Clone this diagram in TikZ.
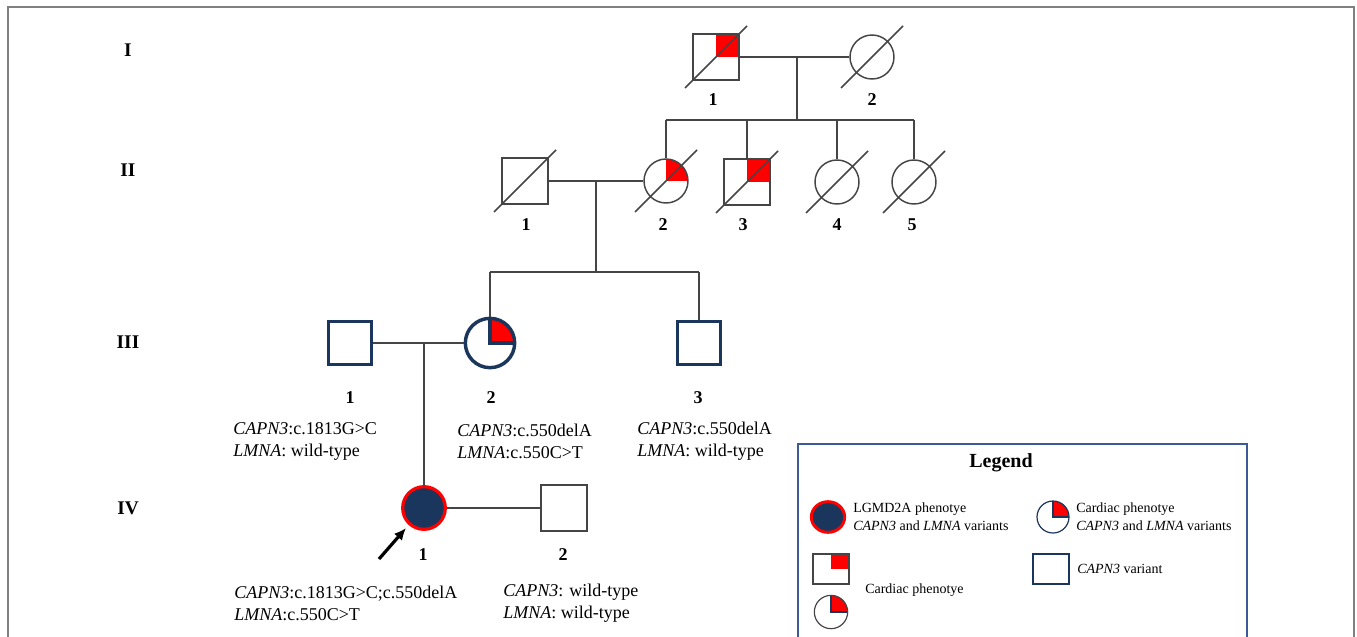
\documentclass[tikz,border=0pt]{standalone}
\usepackage{fontspec}
\setmainfont{Liberation Serif}
\usetikzlibrary{arrows.meta, positioning, calc, shapes.geometric}

\definecolor{navy}{HTML}{1B365D}
\definecolor{linegray}{HTML}{454545}
\definecolor{boxblue}{HTML}{3C5A96}

\begin{document}
\begin{tikzpicture}[
    x=0.75pt, y=-0.75pt,
    male/.style={draw=linegray, rectangle, minimum size=34.5pt, line width=1.1pt, fill=white, inner sep=0pt},
    female/.style={draw=linegray, circle, minimum size=33pt, line width=1.1pt, fill=white, inner sep=0pt},
    carrier/.style={draw=navy, line width=2.6pt},
    quart/.style={path picture={\fill[red] (path picture bounding box.center) rectangle (path picture bounding box.north east);}},
    quartln/.style={path picture={\fill[red] (path picture bounding box.center) rectangle (path picture bounding box.north east);
        \draw[navy, line width=#1] (path picture bounding box.north) -- (path picture bounding box.center) -- (path picture bounding box.east);}},
    rel/.style={draw=linegray, line width=1.1pt},
    dec/.style={draw=linegray, line width=1.1pt},
    proband/.style={-{Latex[length=9pt, width=8pt]}, line width=2.4pt, black, shorten >=3pt},
    num/.style={font=\bfseries\fontsize{13.5}{16}\selectfont, inner sep=0pt},
    gen/.style={font=\bfseries\fontsize{14.5}{16}\selectfont, inner sep=0pt},
    geno/.style={anchor=west, align=left, inner sep=0pt, font=\fontsize{13.5}{16.5}\selectfont},
    leg/.style={anchor=west, align=left, inner sep=0pt, font=\fontsize{10.5}{13.5}\selectfont}
]
\useasboundingbox (0,0) rectangle (1357,636);
\draw[gray, line width=1pt] (8,7) rectangle (1354,660);

% generations
\node[gen] (g1) at (128,50) {I};
\node[gen] (g2) at (128,170) {II};
\node[gen] (g3) at (128,342) {III};
\node[gen] (g4) at (128,508) {IV};

% generation I
\node[male, quart] (i1) at (716,57) {};
\node[female] (i2) at (872,57) {};
\node[num] (n-i1) at (713,100) {1};
\node[num] (n-i2) at (872,100) {2};

% generation II
\node[male] (ii1) at (525,181) {};
\node[female, quart] (ii2) at (666,181) {};
\node[male, quart] (ii3) at (747,182) {};
\node[female] (ii4) at (837,182) {};
\node[female] (ii5) at (914,182) {};
\node[num] (n-ii1) at (526,225) {1};
\node[num] (n-ii2) at (663,225) {2};
\node[num] (n-ii3) at (743,225) {3};
\node[num] (n-ii4) at (837,225) {4};
\node[num] (n-ii5) at (912,225) {5};

% generation III
\node[male, carrier, minimum size=32.5pt] (iii1) at (350,343) {};
\node[female, carrier, minimum size=37pt, quartln=2.6pt] (iii2) at (490,343) {};
\node[male, carrier, minimum size=32.5pt] (iii3) at (699,343) {};
\node[num] (n-iii1) at (350,398) {1};
\node[num] (n-iii2) at (491,398) {2};
\node[num] (n-iii3) at (698,398) {3};
\node[geno] (t-iii1) at (233,441) {\textit{CAPN3}:c.1813G>C\\\textit{LMNA}: wild-type};
\node[geno] (t-iii2) at (457,441) {\textit{CAPN3}:c.550delA\\\textit{LMNA}:c.550C>T};
\node[geno] (t-iii3) at (637,441) {\textit{CAPN3}:c.550delA\\\textit{LMNA}: wild-type};

% generation IV
\node[female, draw=red, fill=navy, line width=2.4pt, minimum size=32pt] (iv1) at (424,508) {};
\node[male] (iv2) at (564,508) {};
\node[num] (n-iv1) at (423,555) {1};
\node[num] (n-iv2) at (563,555) {2};
\node[geno] (t-iv1) at (234,603) {\textit{CAPN3}:c.1813G>C;c.550delA\\\textit{LMNA}:c.550C>T};
\node[geno] (t-iv2) at (503,603) {\textit{CAPN3}: wild-type\\\textit{LMNA}: wild-type};

% lines of descent
\coordinate (m1) at (797,57);
\coordinate (s1) at (797,120);
\coordinate (m2) at (596,181);
\coordinate (s2) at (596,272);
\coordinate (m3) at (424,343);
\coordinate (arr) at (379,559);

\draw[rel] (i1.east) -- (i2.west);
\draw[rel] (m1) -- (s1);
\draw[rel] (ii2 |- s1) -- (ii5 |- s1);
\foreach \k in {ii2,ii3,ii4,ii5}
    \draw[rel] (\k |- s1) -- (\k.north);

\draw[rel] (ii1.east) -- (ii2.west);
\draw[rel] (m2) -- (s2);
\draw[rel] (iii2 |- s2) -- (iii3 |- s2);
\foreach \k in {iii2,iii3}
    \draw[rel] (\k |- s2) -- (\k.north);

\draw[rel] (iii1.east) -- (iii2.west);
\draw[rel] (m3) -- (iv1.north);
\draw[rel] (iv1.east) -- (iv2.west);

% deceased
\foreach \p in {i1,i2,ii1,ii2,ii3,ii4,ii5}
    \draw[dec] ($(\p)+(-31,31)$) -- ($(\p)+(31,-31)$);

% proband
\draw[proband] (arr) -- (iv1.228);

% legend
\draw[boxblue, line width=0.9pt] (798,444) rectangle (1247,660);
\node[font=\bfseries\fontsize{15}{18}\selectfont] (legtitle) at (1001,463) {Legend};

\node[ellipse, draw=red, fill=navy, line width=2.2pt, minimum width=25pt, minimum height=23pt, inner sep=0pt] (lg1) at (828,517) {};
\node[leg] (lt1) at (853,517) {LGMD2A phenotye\\\textit{CAPN3} and \textit{LMNA} variants};

\node[circle, draw=navy, line width=0.9pt, minimum size=24pt, inner sep=0pt, quartln=0.9pt] (lg2) at (1053,517) {};
\node[leg] (lt2) at (1076,517) {Cardiac phenotye\\\textit{CAPN3} and \textit{LMNA} variants};

\node[rectangle, draw=linegray, line width=0.9pt, minimum width=27pt, minimum height=22.5pt, inner sep=0pt, quart] (lg3) at (831,569) {};
\node[circle, draw=linegray, line width=0.9pt, minimum size=25pt, inner sep=0pt, quartln=0.9pt] (lg4) at (831,612) {};
\node[leg] (lt3) at (865,590) {Cardiac phenotye};

\node[rectangle, draw=navy, line width=1.5pt, minimum width=27pt, minimum height=22.5pt, inner sep=0pt] (lg5) at (1051,569) {};
\node[leg] (lt5) at (1077,569) {\textit{CAPN3} variant};
\end{tikzpicture}
\end{document}
